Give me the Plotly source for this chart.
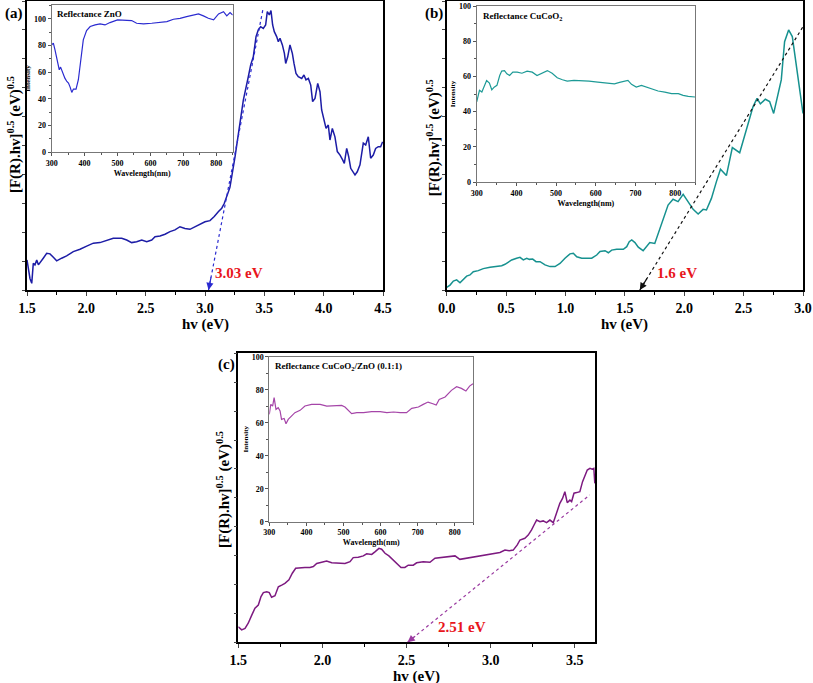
import plotly.graph_objects as go

# ---------------- data ----------------
# Panel (a) ZnO Tauc plot
a_hv = [1.500,1.511,1.525,1.540,1.553,1.567,1.582,1.596,1.618,1.637,1.666,1.694,1.722,1.750,1.792,1.834,1.890,1.947,2.003,2.059,2.115,2.172,2.227,2.298,2.340,2.382,2.424,2.467,2.509,2.551,2.579,2.621,2.663,2.705,2.747,2.789,2.831,2.873,2.916,2.958,3.000,3.042,3.078,3.112,3.141,3.163,3.210,
        3.253,3.281,3.323,3.365,3.385,3.407,3.430,3.449,3.469,3.491,3.511,3.525,3.542,3.556,3.570,3.584,3.604,3.618,3.632,3.652,3.669,3.680,3.697,3.716,3.736,3.750,3.767,3.786,3.815,3.834,3.851,3.871,3.891,3.907,3.927,3.950,3.969,3.983,4.003,4.020,4.039,4.053,4.073,4.095,4.115,4.138,4.160,4.174,4.194,4.211,4.228,4.250,4.264,4.283,4.306,4.334,4.354,4.376,4.396,4.418,4.438,4.460,4.480,4.497]
a_val = [10.4,8.1,4.0,2.3,9.2,8.7,10.4,8.7,9.8,11.0,12.7,12.5,11.3,10.1,11.0,11.8,13.3,14.1,15.2,16.2,16.4,17.3,17.9,17.9,17.3,16.4,16.7,17.3,16.7,17.3,18.4,18.7,19.3,20.2,20.8,21.9,21.3,21.0,21.9,22.8,23.6,24.0,25.4,27.1,28.3,30.0,35.5,
         46.1,54.2,65.7,73.8,77.9,80.7,87.7,90.0,91.1,90.5,91.7,96.3,95.2,96.7,91.7,89.4,87.7,85.9,87.1,84.8,81.9,78.4,80.7,84.8,81.9,78.4,74.9,73.8,73.2,74.4,72.7,73.2,70.9,65.2,66.3,71.5,68.6,62.3,58.2,55.9,57.1,51.9,55.9,53.0,47.9,46.7,45.0,43.8,49.0,46.1,42.1,40.9,39.8,40.9,43.3,50.8,50.2,53.0,45.6,46.7,49.0,49.6,49.6,51.3]
a_fit_hv = [3.03, 3.49]
a_fit_val = [0.0, 97.5]
a_gap = "3.03 eV"

# Panel (a) inset: reflectance ZnO
ai_wl = [300,305,310,315,320,323,327,333,340,346,351,356,361,366,374,381,388,396,406,417,432,447,462,477,500,523,543,558,579,604,629,650,670,690,710,731,746,761,776,792,807,822,832,842,850]
ai_int = [80.5,81.8,76.8,71.8,66.8,61.8,63.8,59.3,55.5,53.0,51.8,48.8,44.8,47.3,47.3,54.3,69.3,84.3,91.3,94.3,95.5,96.3,95.5,97.3,99.3,98.8,98.8,96.8,96.3,96.8,97.3,98.0,99.8,100.5,101.8,102.8,103.8,102.3,100.5,99.3,103.8,105.5,102.3,104.8,103.0]

# Panel (b) CuCoO2 Tauc plot
b_hv = [0.000,0.028,0.056,0.084,0.112,0.140,0.168,0.196,0.224,0.266,0.308,0.365,0.421,0.463,0.491,0.519,0.547,0.589,0.617,0.645,0.674,0.696,0.724,0.752,0.786,0.828,0.870,0.912,0.954,0.996,1.038,1.066,1.095,1.137,1.179,1.221,1.263,1.291,1.333,1.361,1.389,1.431,1.487,1.516,1.537,1.558,1.585,1.613,
        1.654,1.710,1.752,1.808,1.864,1.906,1.948,1.991,2.033,2.075,2.117,2.159,2.187,2.229,2.271,2.305,2.355,2.405,2.467,2.523,2.579,2.613,2.641,2.683,2.719,2.753,2.789,2.817,2.845,2.879,2.910,2.944,2.972,3.000]
b_val = [0.9,1.7,3.1,3.5,2.5,3.5,4.8,5.2,6.3,6.7,7.4,7.9,8.1,8.4,8.9,9.8,10.4,11.0,11.3,10.4,11.0,10.6,10.7,9.8,9.8,8.7,8.1,8.1,9.2,11.0,12.5,12.7,11.5,11.0,11.0,11.0,12.1,13.3,13.6,12.9,13.8,14.1,14.1,15.0,16.7,17.3,16.4,14.8,
         13.6,16.4,16.1,23.1,29.4,31.4,30.6,33.1,30.6,27.9,26.3,27.9,27.7,31.7,37.5,41.8,39.6,49.3,47.5,55.9,63.4,66.3,64.4,66.0,65.2,61.1,68.1,72.7,85.9,90.0,87.7,77.3,68.1,61.1]
b_fit_hv = [1.626, 3.0]
b_fit_val = [0.0, 91.1]
b_gap = "1.6 eV"

# Panel (b) inset: reflectance CuCoO2
bi_wl = [300,303,307,313,319,325,332,338,344,351,358,363,370,376,383,391,402,414,427,440,452,465,478,490,503,516,528,545,562,583,605,630,647,660,672,681,690,702,715,728,740,757,774,791,808,820,833,850]
bi_int = [45.5,49.2,52.1,51.1,54.3,57.7,56.2,52.4,53.9,54.9,60.5,63.0,63.3,61.5,60.5,62.4,62.4,61.8,63.0,62.4,60.5,61.8,63.3,61.8,59.2,58.1,57.3,57.7,57.7,57.3,56.8,56.2,55.8,56.6,57.3,57.7,55.5,53.9,54.9,53.9,53.0,51.7,51.1,50.2,50.2,49.2,48.7,48.3]

# Panel (c) CuCoO2/ZnO Tauc plot
c_hv = [1.500,1.520,1.540,1.559,1.580,1.599,1.619,1.635,1.649,1.669,1.684,1.698,1.718,1.738,1.758,1.777,1.801,1.821,1.841,1.867,1.896,1.926,1.946,1.966,1.996,2.025,2.055,2.094,2.134,2.164,2.183,2.213,2.243,2.263,2.293,2.312,2.336,2.352,2.372,2.395,2.421,2.447,2.467,2.490,2.510,2.540,
        2.560,2.599,2.639,2.669,2.709,2.748,2.788,2.817,2.857,2.896,2.936,2.976,3.015,3.055,3.085,3.110,3.134,3.158,3.174,3.203,3.223,3.243,3.263,3.273,3.293,3.312,3.332,3.352,3.372,3.392,3.411,3.427,3.441,3.455,3.471,3.481,3.495,3.511,3.530,3.546,3.560,3.574,3.590,3.603,3.613,3.619]
c_val = [5.4,4.3,4.8,6.6,9.4,11.8,12.9,15.8,17.2,17.5,17.2,15.6,16.1,19.2,19.8,20.4,21.6,23.9,25.6,25.8,25.9,25.9,26.2,27.3,27.7,28.1,27.5,27.3,27.3,27.9,29.3,29.4,29.9,30.6,30.4,31.3,32.5,32.2,30.8,29.9,28.5,27.3,25.9,25.9,26.7,26.7,
         27.5,27.9,27.7,29.1,29.4,29.6,29.9,28.7,29.1,29.4,29.9,30.4,30.6,31.1,31.9,31.7,31.9,33.7,35.4,36.0,37.1,38.9,41.2,42.3,41.7,42.0,41.4,42.3,41.4,44.6,48.1,49.8,52.1,48.3,49.2,48.7,51.6,51.8,52.1,55.6,57.9,59.6,60.2,59.9,60.2,55.0]
c_fit_hv = [2.506, 3.589]
c_fit_val = [0.0, 51.0]
c_gap = "2.51 eV"

# Panel (c) inset: reflectance CuCoO2/ZnO
ci_wl = [300,304,309,313,318,324,329,333,340,345,351,360,369,383,396,414,437,455,473,495,504,513,522,536,554,576,599,617,635,653,670,684,702,715,728,741,750,758,774,791,805,818,830,840,849]
ci_int = [65.1,71.1,70.1,75.2,68.1,69.1,67.1,62.0,62.6,59.4,62.0,64.0,66.1,67.5,70.1,71.1,71.1,70.1,70.1,70.5,69.5,67.5,65.5,66.1,66.1,66.7,66.7,66.1,66.5,66.1,66.1,68.7,69.5,71.1,72.5,71.5,70.7,74.1,75.6,79.6,81.8,80.8,79.2,82.2,83.6]

# gap-label anchor positions (hv, value)
gap_label_x = [3.286, 1.94, 2.827]
gap_label_y = [5.8, 5.8, 5.4]

panel_labels = ["(a)", "(b)", "(c)"]
inset_titles = ["Reflectance ZnO", "Reflectance CuCoO<sub>2</sub>", "Reflectance CuCoO<sub>2</sub>/ZnO (0.1:1)"]

# ---------------- styling ----------------
W, H = 813, 683
SERIF = "Liberation Serif"
def px_x(p): return p / W
def px_y(p): return 1 - p / H

main_color = ["#1c1ca6", "#16918f", "#7d1a80"]
inset_color = ["#2b2bd0", "#1d9a96", "#a545a8"]
fit_color = ["#2a2ad0", "#111111", "#9a3aa0"]

# domains (pixel boxes -> paper)
main_boxes = [(27, 383, 1, 290), (446.7, 803, 1, 290), (238.3, 595, 353.3, 642.3)]
inset_boxes = [(51.7, 232.7, 5, 152), (476.7, 695, 6, 182), (269.3, 473.3, 356.7, 521.7)]
main_xrange = [[1.5, 4.5], [0.0, 3.0], [1.5, 3.62]]
inset_yrange = [[0, 110.5], [0, 100], [0, 100]]
ytitle_x = [14, 433, 224]
ytitle_y = [0.536, 0.525, 0.527]
label_pos = [(3, 13), (423, 13), (216, 364)]

fig = go.Figure()

mains = [(a_hv, a_val, a_fit_hv, a_fit_val, a_gap), (b_hv, b_val, b_fit_hv, b_fit_val, b_gap), (c_hv, c_val, c_fit_hv, c_fit_val, c_gap)]
insets = [(ai_wl, ai_int), (bi_wl, bi_int), (ci_wl, ci_int)]

annotations = []
for i in range(3):
    mx = f"x{2*i+1}" if i > 0 else "x"
    my = f"y{2*i+1}" if i > 0 else "y"
    ix, iy = f"x{2*i+2}", f"y{2*i+2}"
    hv, val, fhv, fval, gap = mains[i]
    fig.add_trace(go.Scatter(x=hv, y=val, mode="lines", line=dict(color=main_color[i], width=1.5),
                             xaxis=mx, yaxis=my, showlegend=False))
    fig.add_trace(go.Scatter(x=fhv, y=fval, mode="lines", line=dict(color=fit_color[i], width=1.2, dash="dot"),
                             xaxis=mx, yaxis=my, showlegend=False))
    wl, it = insets[i]
    fig.add_trace(go.Scatter(x=wl, y=it, mode="lines", line=dict(color=inset_color[i], width=1.2),
                             xaxis=ix, yaxis=iy, showlegend=False))

    x0, x1, y0, y1 = main_boxes[i]
    k = "" if i == 0 else str(2*i+1)
    fig.update_layout(**{
        f"xaxis{k}": dict(domain=[px_x(x0), px_x(x1)], anchor=my, range=main_xrange[i], dtick=0.5,
                           tickformat=".1f", ticks="outside", ticklen=4, tickwidth=1.2, automargin=False,
                           minor=dict(dtick=0.25, ticks="outside", ticklen=3, tickcolor="#000"),
                           showline=True, linecolor="#000", linewidth=1.5, mirror=True,
                           showgrid=False, zeroline=False,
                           tickfont=dict(family=SERIF, size=14, color="#000", weight="bold")),
        f"yaxis{k}": dict(domain=[px_y(y1), px_y(y0)], anchor=mx, range=[0, 100], dtick=10,
                           ticks="outside", ticklen=3, showticklabels=False, automargin=False,
                           showline=True, linecolor="#000", linewidth=1.5, mirror=True,
                           showgrid=False, zeroline=False),
    })
    ix0, ix1, iy0, iy1 = inset_boxes[i]
    fig.update_layout(**{
        f"xaxis{2*i+2}": dict(domain=[px_x(ix0), px_x(ix1)], anchor=iy, range=[300, 850], dtick=100,
                               ticks="outside", ticklen=3, tickcolor="#555", automargin=False,
                               minor=dict(dtick=50, ticks="outside", ticklen=2, tickcolor="#555"),
                               showline=True, linecolor="#777", linewidth=1, mirror=True,
                               showgrid=False, zeroline=False,
                               tickfont=dict(family=SERIF, size=8, color="#000", weight="bold"),
                               title=dict(text="Wavelength(nm)", standoff=3,
                                          font=dict(family=SERIF, size=8, color="#000", weight="bold"))),
        f"yaxis{2*i+2}": dict(domain=[px_y(iy1), px_y(iy0)], anchor=ix, range=inset_yrange[i], dtick=20,
                               ticks="outside", ticklen=3, tickcolor="#555", automargin=False,
                               minor=dict(dtick=10, ticks="outside", ticklen=2, tickcolor="#555"),
                               showline=True, linecolor="#777", linewidth=1, mirror=True,
                               showgrid=False, zeroline=False,
                               tickfont=dict(family=SERIF, size=8, color="#000", weight="bold"),
                               title=dict(text="Intensity", standoff=2,
                                          font=dict(family=SERIF, size=7, color="#000", weight="bold"))),
    })
    # inset title
    annotations.append(dict(text=f"<b>{inset_titles[i]}</b>", xref=f"{ix} domain", yref=f"{iy} domain",
                            x=0.02, y=0.985, xanchor="left", yanchor="top", showarrow=False,
                            font=dict(family=SERIF, size=9, color="#000")))
    # arrowhead at gap
    annotations.append(dict(x=fhv[0], y=fval[0], xref=mx, yref=my,
                            ax=fhv[0] + (fhv[1]-fhv[0])*0.05, ay=fval[0] + (fval[1]-fval[0])*0.05,
                            axref=mx, ayref=my, showarrow=True, arrowhead=2, arrowsize=1.2,
                            arrowwidth=1.2, arrowcolor=fit_color[i], text=""))
    # gap label
    annotations.append(dict(text=f"<b>{gap}</b>", xref=mx, yref=my,
                            x=gap_label_x[i], y=gap_label_y[i], xanchor="center", yanchor="middle",
                            showarrow=False, font=dict(family=SERIF, size=15, color="#e8161c")))
    # axis titles
    annotations.append(dict(text="<b>hv (eV)</b>", xref=f"{mx} domain", yref="paper",
                            x=0.5, y=px_y(y1 + 34), xanchor="center", yanchor="middle", showarrow=False,
                            font=dict(family=SERIF, size=15, color="#000")))
    annotations.append(dict(text="<b>[F(R).hv]<sup>0.5</sup> (eV)<sup>0.5</sup></b>", xref="paper", yref=f"{my} domain",
                            x=px_x(ytitle_x[i]), y=ytitle_y[i], xanchor="center", yanchor="middle", textangle=-90,
                            showarrow=False, font=dict(family=SERIF, size=15, color="#000")))
    # panel label
    annotations.append(dict(text=f"<b>{panel_labels[i]}</b>", xref="paper", yref="paper",
                            x=px_x(label_pos[i][0]), y=px_y(label_pos[i][1]),
                            xanchor="left", yanchor="middle", showarrow=False,
                            font=dict(family=SERIF, size=15, color="#000")))

fig.update_layout(width=W, height=H, margin=dict(l=0, r=0, t=0, b=0, autoexpand=False),
                  paper_bgcolor="white", plot_bgcolor="white", showlegend=False,
                  annotations=annotations)
fig.write_html("out.html", config={"displayModeBar": False},
               post_script="document.body.style.margin='0';document.body.style.overflow='hidden';")
